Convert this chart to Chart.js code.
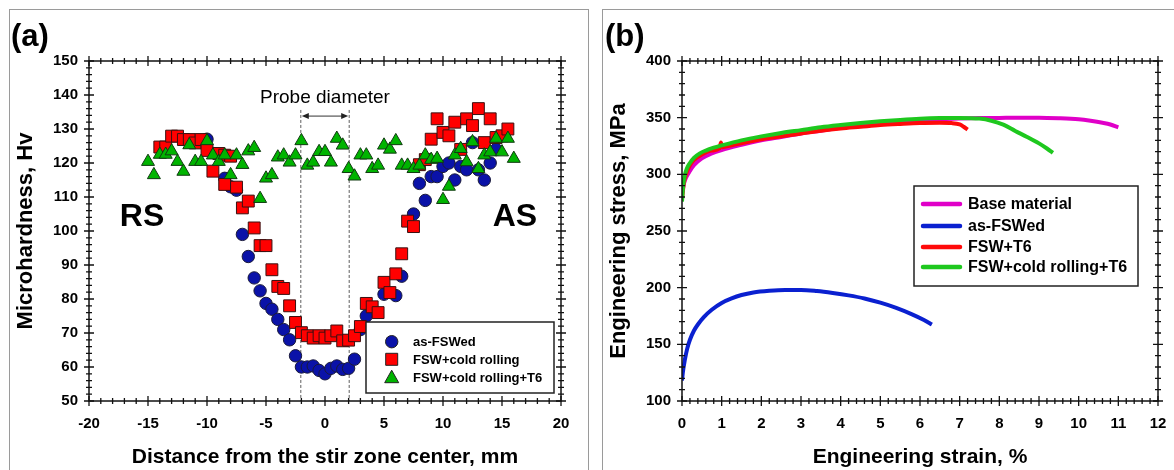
<!DOCTYPE html>
<html>
<head>
<meta charset="utf-8">
<script src="https://cdn.jsdelivr.net/npm/chart.js@4.4.1/dist/chart.umd.min.js"></script>
<style>
body{margin:0;background:#fff;width:1174px;height:470px;overflow:hidden;position:relative;font-family:"Liberation Sans",Arial,sans-serif}
.frame{position:absolute;border:1.5px solid #9a9a9a;border-bottom:none}
#fa{left:9px;top:9px;width:578px;height:470px}
#fb{left:602px;top:9px;width:600px;height:470px;border-right:none}
canvas{position:absolute}
#ca{left:10px;top:10px}
#cb{left:603px;top:10px}
.tag{position:absolute;font:bold 31px "Liberation Sans",Arial,sans-serif;line-height:32px}
</style>
</head>
<body>
<div class="frame" id="fa"></div>
<div class="frame" id="fb"></div>
<canvas id="ca" width="578" height="460"></canvas>
<canvas id="cb" width="571" height="460"></canvas>
<div class="tag" style="left:11px;top:20px">(a)</div>
<div class="tag" style="left:605px;top:20px">(b)</div>
<script>
// (a) microhardness profiles
const xBlue = [-10, -8.5, -8, -7.5, -7, -6.5, -6, -5.5, -5, -4.5, -4, -3.5, -3, -2.5, -2, -1.5, -1, -0.5, 0, 0.5, 1, 1.5, 2, 2.5, 3, 3.5, 5, 6, 6.5, 7.5, 8, 8.5, 9, 9.5, 10, 10.5, 11, 11.5, 12, 12.5, 13, 13.5, 14, 14.5];
const yBlue = [127, 115.5, 113, 112, 99, 92.5, 86.2, 82.4, 78.7, 77, 74, 71, 68, 63.3, 60, 60, 60.3, 59, 58, 59.6, 60.3, 59.3, 59.6, 62.3, 71, 75, 81.4, 81, 86.7, 105, 114, 109, 116, 116, 119, 120, 115, 119, 118, 126, 118, 115, 120, 124];

const xRed = [-14, -13.5, -13, -12.5, -12, -11.5, -11, -10.5, -10, -9.5, -9, -8.5, -8.5, -8, -7.5, -7, -6.5, -6, -5.5, -5, -4.5, -4, -3.5, -3, -2.5, -2, -1.5, -1, -0.5, 0, 0.5, 1, 1.5, 2, 2.5, 3, 3.5, 4, 4.5, 5, 5.5, 6, 6.5, 7, 7.5, 8, 8.5, 9, 9.5, 10, 10.5, 11, 11.5, 12, 12.5, 13, 13.5, 14, 14.5, 15, 15.5];
const yRed = [124.7, 124.7, 127.9, 127.9, 126.9, 126.9, 125.9, 126.9, 123.7, 117.6, 122.8, 122.3, 113.7, 122, 112.9, 106.8, 108.8, 100.9, 95.7, 95.7, 88.6, 83.7, 83.1, 78, 73.1, 70.1, 69.2, 68.5, 69.2, 68.5, 69.2, 70.6, 67.7, 67.9, 69.2, 71.9, 78.7, 77.7, 76, 84.9, 81.9, 87.4, 93.3, 102.9, 101.3, 119.5, 121, 127, 133, 129, 128, 132, 124, 133, 131, 136, 126, 133, 127.5, 128, 130];

const xGreen = [-15, -14.5, -14, -13.5, -13, -12.5, -12, -11.5, -11, -10.5, -10, -9.5, -9, -8.5, -8, -7.5, -7, -6.5, -6, -5.5, -5, -4.5, -4, -3.5, -3, -2.5, -2, -1.5, -1, -0.5, 0, 0.5, 1, 1.5, 2, 2.5, 3, 3.5, 4, 4.5, 5, 5.5, 6, 6.5, 7, 7.5, 8, 8.5, 9, 9.5, 10, 10.5, 11, 11.5, 12, 12.5, 13, 13.5, 14, 14.5, 15, 15.5, 16];
const yGreen = [120.4, 116.5, 122.5, 122.5, 123.5, 120.4, 117.5, 125.3, 120.4, 120.4, 126.5, 122.3, 120.4, 122.3, 116.5, 122.3, 119.5, 123.5, 124.5, 109.5, 115.5, 116.5, 121.7, 122.3, 120.2, 122.3, 126.5, 119.3, 120.2, 123.3, 123.3, 120.2, 127.2, 125.2, 118.3, 116.1, 122.3, 122.3, 118.3, 119.3, 125.2, 124, 126.5, 119.3, 119.3, 118.3, 119.3, 122.3, 121, 121.3, 109.2, 113.1, 122.3, 124.2, 120.3, 126.2, 118.3, 122.3, 123.2, 127.2, 123.2, 127.2, 121.3];

// (b) tensile curves
const strainBase = [0, 0.05, 0.1, 0.2, 0.3, 0.5, 0.75, 1, 1.5, 2, 2.5, 3, 3.5, 4, 4.5, 5, 5.5, 6, 6.5, 7, 7.5, 8, 8.5, 9, 9.5, 10, 10.3, 10.6, 10.8, 11];
const stressBase = [283, 292, 297, 303, 308, 314, 318.5, 321.5, 326, 330, 333, 336, 338.5, 341, 343, 345, 346.5, 347.5, 348.5, 349.2, 349.6, 349.8, 350, 350, 349.5, 348.5, 347.2, 345.5, 344, 341.5];
const strainAsFsw = [0, 0.02, 0.07, 0.13, 0.2, 0.3, 0.4, 0.55, 0.75, 1, 1.25, 1.5, 1.8, 2.2, 2.6, 3, 3.4, 3.8, 4.2, 4.6, 5, 5.4, 5.8, 6.1, 6.3];
const stressAsFsw = [118, 125, 136, 146, 154, 162, 167.5, 174, 180.5, 186.5, 190.5, 193.5, 195.8, 197.3, 198, 198, 197, 195.3, 193.2, 190.5, 186.8, 182.2, 176.5, 171.5, 167.5];
const strainT6 = [0, 0.05, 0.1, 0.2, 0.3, 0.5, 0.75, 0.95, 0.98, 1.02, 1.1, 1.5, 2, 2.5, 3, 3.5, 4, 4.5, 5, 5.5, 6, 6.5, 6.8, 7, 7.1, 7.2];
const stressT6 = [278, 293, 300, 308, 312.5, 317.5, 321, 323, 328, 324, 324.5, 327.5, 331, 333.5, 336, 338.5, 340.5, 342, 343.5, 344.5, 345.3, 345.5, 345.2, 344, 342, 339.5];
const strainRollT6 = [0, 0.03, 0.07, 0.12, 0.2, 0.3, 0.45, 0.6, 0.8, 1, 1.5, 2, 2.5, 3, 3.5, 4, 4.5, 5, 5.5, 6, 6.5, 7, 7.5, 7.8, 8.1, 8.4, 8.7, 9, 9.2, 9.35];
const stressRollT6 = [276, 290, 299, 305, 310, 314.5, 318.5, 321, 323.5, 325.5, 330, 333.5, 336.5, 339, 341.5, 343.5, 345.3, 346.8, 348, 349, 349.6, 349.8, 349.2, 347.3, 343.8, 338.3, 333, 327.3, 322.8, 319];

const FONT = '"Liberation Sans", Arial, sans-serif';
Chart.defaults.font.family = FONT;
Chart.defaults.color = '#000';

const pts = (xs, ys) => xs.map((x, i) => ({x, y: ys[i]}));

// frame with crossing major/minor ticks on all four sides
const frameTicks = {
  id: 'frameTicks',
  afterDatasetsDraw(chart, args, o) {
    const {ctx, chartArea: a, scales: {x, y}} = chart;
    ctx.save();
    ctx.strokeStyle = '#111';
    ctx.lineWidth = 1.5;
    ctx.strokeRect(a.left, a.top, a.right - a.left, a.bottom - a.top);
    ctx.lineWidth = 1.3;
    ctx.beginPath();
    const nx = Math.round((x.max - x.min) / o.xMinor);
    for (let i = 0; i <= nx; i++) {
      const px = x.getPixelForValue(x.min + i * o.xMinor);
      const len = i % o.xEvery === 0 ? 5 : 3;
      ctx.moveTo(px, a.bottom - len); ctx.lineTo(px, a.bottom + len);
      ctx.moveTo(px, a.top - len); ctx.lineTo(px, a.top + len);
    }
    const ny = Math.round((y.max - y.min) / o.yMinor);
    for (let i = 0; i <= ny; i++) {
      const py = y.getPixelForValue(y.min + i * o.yMinor);
      const len = i % o.yEvery === 0 ? 5 : 3;
      ctx.moveTo(a.left - len, py); ctx.lineTo(a.left + len, py);
      ctx.moveTo(a.right - len, py); ctx.lineTo(a.right + len, py);
    }
    ctx.stroke();
    ctx.restore();
  }
};

function marker(ctx, style, x, y, fill) {
  ctx.fillStyle = fill;
  ctx.strokeStyle = '#222';
  ctx.lineWidth = 1;
  ctx.beginPath();
  if (style === 'circle') ctx.arc(x, y, 6.2, 0, Math.PI * 2);
  else if (style === 'rect') ctx.rect(x - 6, y - 6, 12, 12);
  else { ctx.moveTo(x, y - 7.5); ctx.lineTo(x + 7, y + 5); ctx.lineTo(x - 7, y + 5); ctx.closePath(); }
  ctx.fill(); ctx.stroke();
}

// boxed legend inside the plot
const boxLegend = {
  id: 'boxLegend',
  afterDraw(chart, args, o) {
    const {ctx, chartArea: a} = chart;
    const bx = a.right - o.right - o.w, by = o.top != null ? a.top + o.top : a.bottom - o.bottom - o.h;
    ctx.save();
    ctx.fillStyle = '#fff';
    ctx.fillRect(bx, by, o.w, o.h);
    ctx.strokeStyle = '#222';
    ctx.lineWidth = 1.5;
    ctx.strokeRect(bx, by, o.w, o.h);
    ctx.font = 'bold ' + o.size + 'px ' + FONT;
    ctx.textBaseline = 'middle';
    chart.data.datasets.forEach((ds, i) => {
      const ry = by + o.rows[i];
      if (o.kind === 'line') {
        ctx.strokeStyle = ds.borderColor;
        ctx.lineWidth = 4.5;
        ctx.lineCap = 'round';
        ctx.beginPath();
        ctx.moveTo(bx + o.x0, ry); ctx.lineTo(bx + o.x1, ry);
        ctx.stroke();
      } else {
        marker(ctx, ds.pointStyle, bx + o.x0, ry, ds.backgroundColor);
      }
      ctx.fillStyle = '#000';
      ctx.fillText(ds.label, bx + o.tx, ry + 1);
    });
    ctx.restore();
  }
};

// probe diameter marks and RS / AS labels
const probeNotes = {
  id: 'probeNotes',
  beforeDatasetsDraw(chart) {
    const {ctx, chartArea: a, scales: {x, y}} = chart;
    const x1 = x.getPixelForValue(-2.05), x2 = x.getPixelForValue(2.05);
    ctx.save();
    ctx.strokeStyle = '#333';
    ctx.lineWidth = 0.8;
    ctx.setLineDash([3, 2]);
    ctx.beginPath();
    [x1, x2].forEach(px => { ctx.moveTo(px, y.getPixelForValue(135.6)); ctx.lineTo(px, a.bottom); });
    ctx.stroke();
    ctx.setLineDash([]);
    const ay = y.getPixelForValue(133.8);
    ctx.lineWidth = 1;
    ctx.beginPath(); ctx.moveTo(x1 + 4, ay); ctx.lineTo(x2 - 4, ay); ctx.stroke();
    ctx.fillStyle = '#222';
    ctx.beginPath(); ctx.moveTo(x1 + 1, ay); ctx.lineTo(x1 + 8, ay - 3); ctx.lineTo(x1 + 8, ay + 3); ctx.closePath(); ctx.fill();
    ctx.beginPath(); ctx.moveTo(x2 - 1, ay); ctx.lineTo(x2 - 8, ay - 3); ctx.lineTo(x2 - 8, ay + 3); ctx.closePath(); ctx.fill();
    ctx.fillStyle = '#000';
    ctx.textAlign = 'center';
    ctx.textBaseline = 'middle';
    ctx.font = '19px ' + FONT;
    ctx.fillText('Probe diameter', x.getPixelForValue(0), y.getPixelForValue(139.1));
    ctx.font = 'bold 32px ' + FONT;
    ctx.fillText('RS', x.getPixelForValue(-15.5), y.getPixelForValue(104.2));
    ctx.fillText('AS', x.getPixelForValue(16.1), y.getPixelForValue(104.2));
    ctx.restore();
  }
};

// fixed axis boxes so the plot area sits where the layout padding puts it
function fixBox(size, key) {
  return s => {
    s[key] = size;
    s.paddingLeft = s.paddingRight = s.paddingTop = s.paddingBottom = 0;
  };
}

function axes(xo, yo, xTitle, yTitle) {
  const tickFont = {size: 15, weight: 'bold'};
  return {
    x: Object.assign({type: 'linear', afterFit: fixBox(69, 'height'),
      grid: {display: false, drawTicks: false}, border: {display: false},
      ticks: Object.assign({padding: 14, font: tickFont, maxRotation: 0, autoSkip: false}, xo.ticks),
      title: {display: true, text: xTitle, font: {size: 21, weight: 'bold'}, padding: {top: 0, bottom: 0}}}, xo.range),
    y: Object.assign({type: 'linear', afterFit: fixBox(79, 'width'),
      grid: {display: false, drawTicks: false}, border: {display: false},
      ticks: Object.assign({padding: 11, font: tickFont, autoSkip: false}, yo.ticks),
      title: {display: true, text: yTitle, font: {size: 22, weight: 'bold'}, padding: {top: 3, bottom: 0}}}, yo.range)
  };
}

new Chart(document.getElementById('ca'), {
  type: 'scatter',
  data: {
    datasets: [
      {label: 'as-FSWed', data: pts(xBlue, yBlue), pointStyle: 'circle', pointRadius: 6.2,
       backgroundColor: '#0a12a8', borderColor: '#1a1a3a', borderWidth: 1, order: 3},
      {label: 'FSW+cold rolling', data: pts(xRed, yRed), pointStyle: 'rect', pointRadius: 8.4,
       backgroundColor: '#ff0000', borderColor: '#3a1010', borderWidth: 1, order: 2},
      {label: 'FSW+cold rolling+T6', data: pts(xGreen, yGreen), pointStyle: 'triangle', pointRadius: 7.5,
       backgroundColor: '#00b400', borderColor: '#103a10', borderWidth: 1, order: 1}
    ]
  },
  options: {
    responsive: false,
    animation: false,
    layout: {padding: {top: 51, right: 27, bottom: 0, left: 0}},
    plugins: {
      legend: {display: false},
      tooltip: {enabled: false},
      frameTicks: {xMinor: 1, xEvery: 5, yMinor: 2, yEvery: 5},
      boxLegend: {right: 7, bottom: 8, w: 188, h: 71, rows: [19.7, 37.3, 55.7], kind: 'marker', x0: 25.7, tx: 47, size: 13}
    },
    scales: axes({range: {min: -20, max: 20}, ticks: {stepSize: 5}},
                 {range: {min: 50, max: 150}, ticks: {stepSize: 10}},
                 'Distance from the stir zone center, mm', 'Microhardness, Hv')
  },
  plugins: [probeNotes, frameTicks, boxLegend]
});

const curve = (label, xs, ys, color, order) => ({
  label, data: pts(xs, ys), borderColor: color, backgroundColor: color, borderWidth: 4,
  pointRadius: 0, cubicInterpolationMode: 'monotone', order
});

new Chart(document.getElementById('cb'), {
  type: 'line',
  data: {
    datasets: [
      curve('Base material', strainBase, stressBase, '#e000c8', 4),
      curve('as-FSWed', strainAsFsw, stressAsFsw, '#0a20d0', 3),
      curve('FSW+T6', strainT6, stressT6, '#ff0a0a', 2),
      curve('FSW+cold rolling+T6', strainRollT6, stressRollT6, '#1ec81e', 1)
    ]
  },
  options: {
    responsive: false,
    animation: false,
    layout: {padding: {top: 51, right: 16, bottom: 0, left: 0}},
    plugins: {
      legend: {display: false},
      tooltip: {enabled: false},
      frameTicks: {xMinor: 0.2, xEvery: 5, yMinor: 10, yEvery: 5},
      boxLegend: {right: 20, top: 125, w: 224, h: 100, rows: [18, 40, 61, 81], kind: 'line', x0: 9, x1: 46, tx: 54, size: 16}
    },
    scales: axes({range: {min: 0, max: 12}, ticks: {stepSize: 1}},
                 {range: {min: 100, max: 400}, ticks: {stepSize: 50}},
                 'Engineering strain, %', 'Engineering stress, MPa')
  },
  plugins: [frameTicks, boxLegend]
});
</script>
</body>
</html>
